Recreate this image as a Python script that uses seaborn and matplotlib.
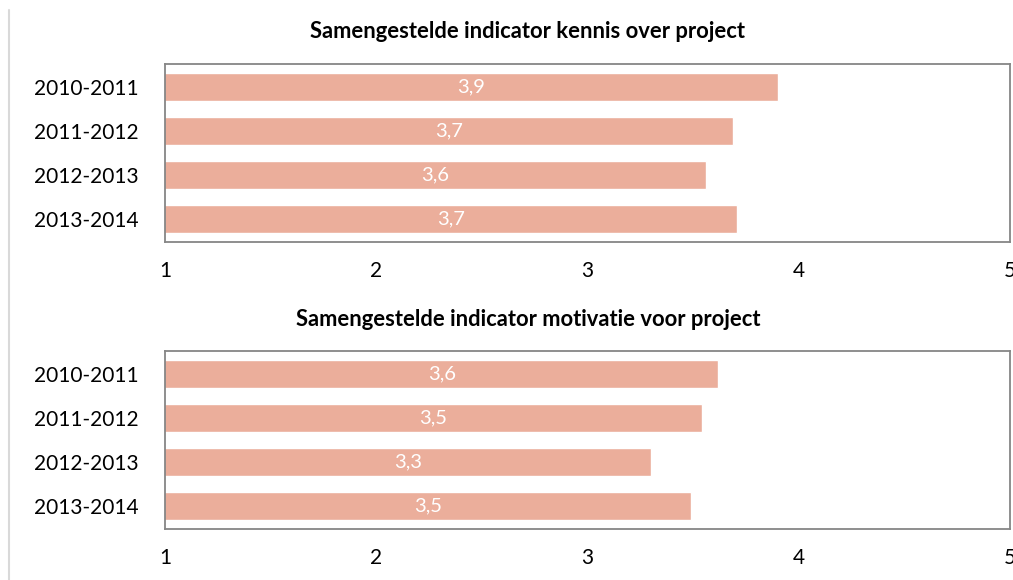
import matplotlib
matplotlib.use("Agg")
import matplotlib.pyplot as plt
import seaborn as sns
import pandas as pd
from matplotlib.lines import Line2D

sns.set_theme(style="white")
plt.rcParams["font.family"] = ["Lato", "DejaVu Sans"]

years = ["2010-2011", "2011-2012", "2012-2013", "2013-2014"]
kennis = [3.90, 3.69, 3.56, 3.71]
motivatie = [3.62, 3.54, 3.30, 3.49]
titles = [
    "Samengestelde indicator kennis over project",
    "Samengestelde indicator motivatie voor project",
]
x_ticks = [1, 2, 3, 4, 5]

BAR = "#EBAE9B"
FRAME = "#868686"

fig = plt.figure(figsize=(10.13, 5.8), dpi=100)
W, H = 1013, 580

panels = [
    (kennis, titles[0], 64, 242, 32),
    (motivatie, titles[1], 351, 529, 320),
]

for values, title, top, bottom, title_y in panels:
    ax = fig.add_axes([165 / W, 1 - bottom / H, (1010 - 165) / W, (bottom - top) / H])
    df = pd.DataFrame({"jaar": years, "score": values})
    sns.barplot(data=df, x="score", y="jaar", orient="h", color=BAR,
                saturation=1, width=0.64, ax=ax)
    ax.set_xlim(1, 5)
    ax.set_ylim(3.52, -0.52)
    ax.set_xticks(x_ticks)
    ax.set_xticklabels([str(t) for t in x_ticks])
    ax.set_xlabel("")
    ax.set_ylabel("")
    ax.tick_params(axis="both", length=0, labelsize=15, colors="#000000")
    ax.tick_params(axis="x", pad=14)
    ax.tick_params(axis="y", pad=19)
    for s in ax.spines.values():
        s.set_visible(True)
        s.set_color(FRAME)
        s.set_linewidth(1.3)
    for i, v in enumerate(values):
        ax.text((1 + v) / 2, i, f"{v:.1f}".replace(".", ","), ha="center",
                va="center", color="white", fontsize=14.5)
    fig.text(528 / W, 1 - title_y / H, title, ha="center", va="center",
             fontsize=15.8, fontweight="bold", color="#000000")

# thin divider along the left edge
fig.add_artist(Line2D([9 / W, 9 / W], [0, 1 - 10 / H], transform=fig.transFigure,
                      color="#D9D9D9", linewidth=1.5))

fig.savefig("out.png", dpi=100)
